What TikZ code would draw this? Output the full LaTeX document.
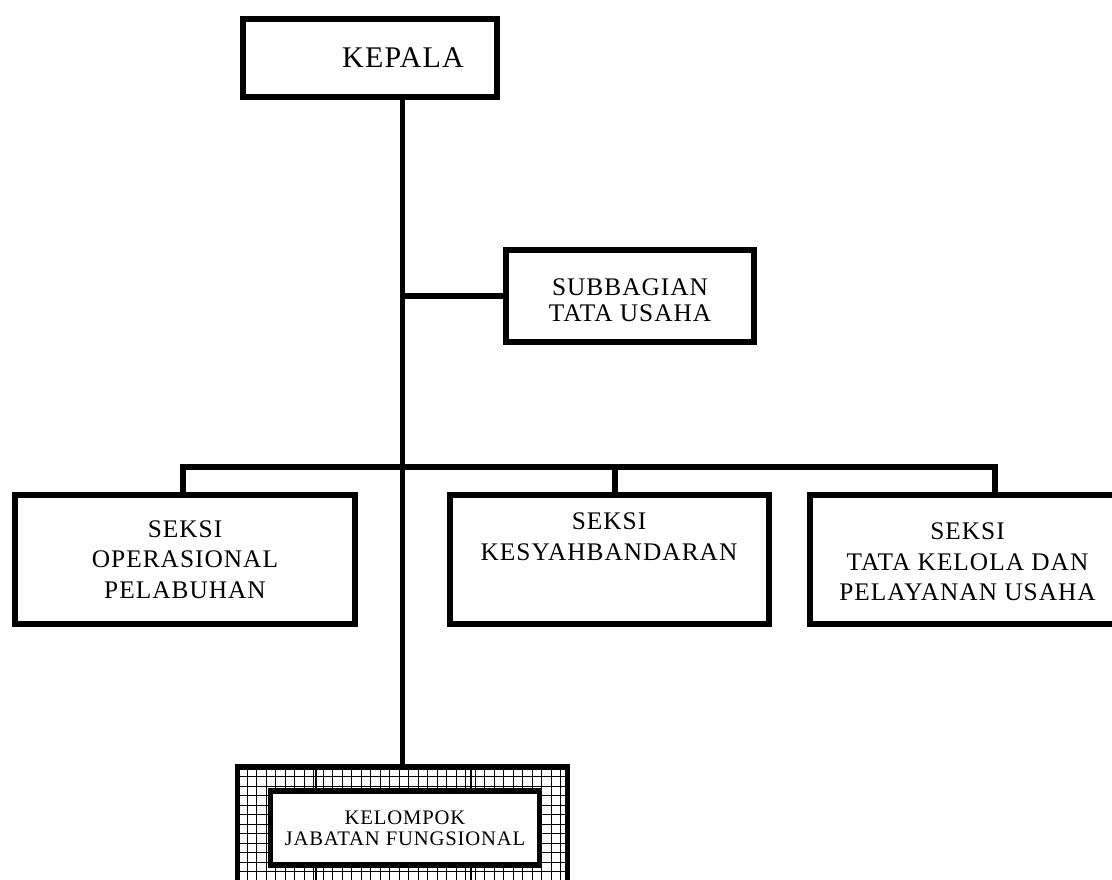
\documentclass[tikz,border=0pt]{standalone}
\usepackage{fontspec}
\setmainfont{Liberation Serif}[LetterSpace=4]
\usetikzlibrary{positioning}

\begin{document}
\begin{tikzpicture}[x=0.75pt,y=-0.75pt]
  \tikzset{box/.style={draw,line width=4.4pt,inner sep=0pt,fill=white}};
  \tikzset{lbl/.style={align=center,inner sep=0pt,font=\fontsize{19}{23}\selectfont}};
  \tikzset{link/.style={line width=4.1pt}};
  \tikzset{gridline/.style={line width=0.75pt}};
  \useasboundingbox (0,0) rectangle (1112,879);
  \clip (0,0) rectangle (1112,879);
  % boxes
  \node[box,minimum width=190.5pt,minimum height=58.5pt] (kepala) at (370,58) {};
  \node[lbl,font=\fontsize{22.5}{26}\selectfont] (kepalatxt) at (403,58) {KEPALA};
  \node[box,minimum width=186pt,minimum height=69pt] (subbag) at (630,296) {};
  \node[lbl,font=\fontsize{19}{19.5}\selectfont] (subbagtxt) at (630,300) {SUBBAGIAN\\TATA USAHA};
  \node[box,lbl,minimum width=255pt,minimum height=96.75pt] (seksi1) at (185,559.5) {SEKSI\\OPERASIONAL\\PELABUHAN};
  \node[box,minimum width=239.25pt,minimum height=96.75pt] (seksi2) at (609.5,559.5) {};
  \node[lbl] (seksi2txt) at (609,537) {SEKSI\\KESYAHBANDARAN};
  \node[box,minimum width=277.5pt,minimum height=96.75pt] (seksi3) at (995,559.5) {};
  \node[lbl] (seksi3txt) at (967.5,562) {SEKSI\\TATA KELOLA DAN\\PELAYANAN USAHA};
  % grid frame
  \node[box,minimum width=247.5pt,minimum height=99.75pt] (frame) at (402.5,833.5) {};
  \foreach \i in {1,...,34}
    \draw[gridline] (237.5+\i*9.5,767) -- (237.5+\i*9.5,900);
  \foreach \i in {1,...,14}
    \draw[gridline] (237.5,767+\i*9.5) -- (567.5,767+\i*9.5);
  \foreach \x in {316,471}
    \draw[line width=2.2pt] (\x,767) -- (\x,900);
  \node[box,lbl,font=\fontsize{15.5}{15.75}\selectfont,minimum width=201.75pt,minimum height=55.5pt] (kelompok) at (405,828) {KELOMPOK\\JABATAN FUNGSIONAL};
  % lines
  \coordinate (bar) at (0,467);
  \draw[link] (frame.north |- kepala.south) -- (frame.north);
  \draw[link] (subbag.west) -- (subbag.west -| frame.north);
  \draw[link] ([xshift=-1.5pt]seksi1.north) -- ([xshift=-1.5pt]seksi1.north |- bar) -- (seksi3.north |- bar) -- (seksi3.north);
  \draw[link] ([xshift=4pt]seksi2.north) -- ([xshift=4pt]seksi2.north |- bar);
\end{tikzpicture}
\end{document}
